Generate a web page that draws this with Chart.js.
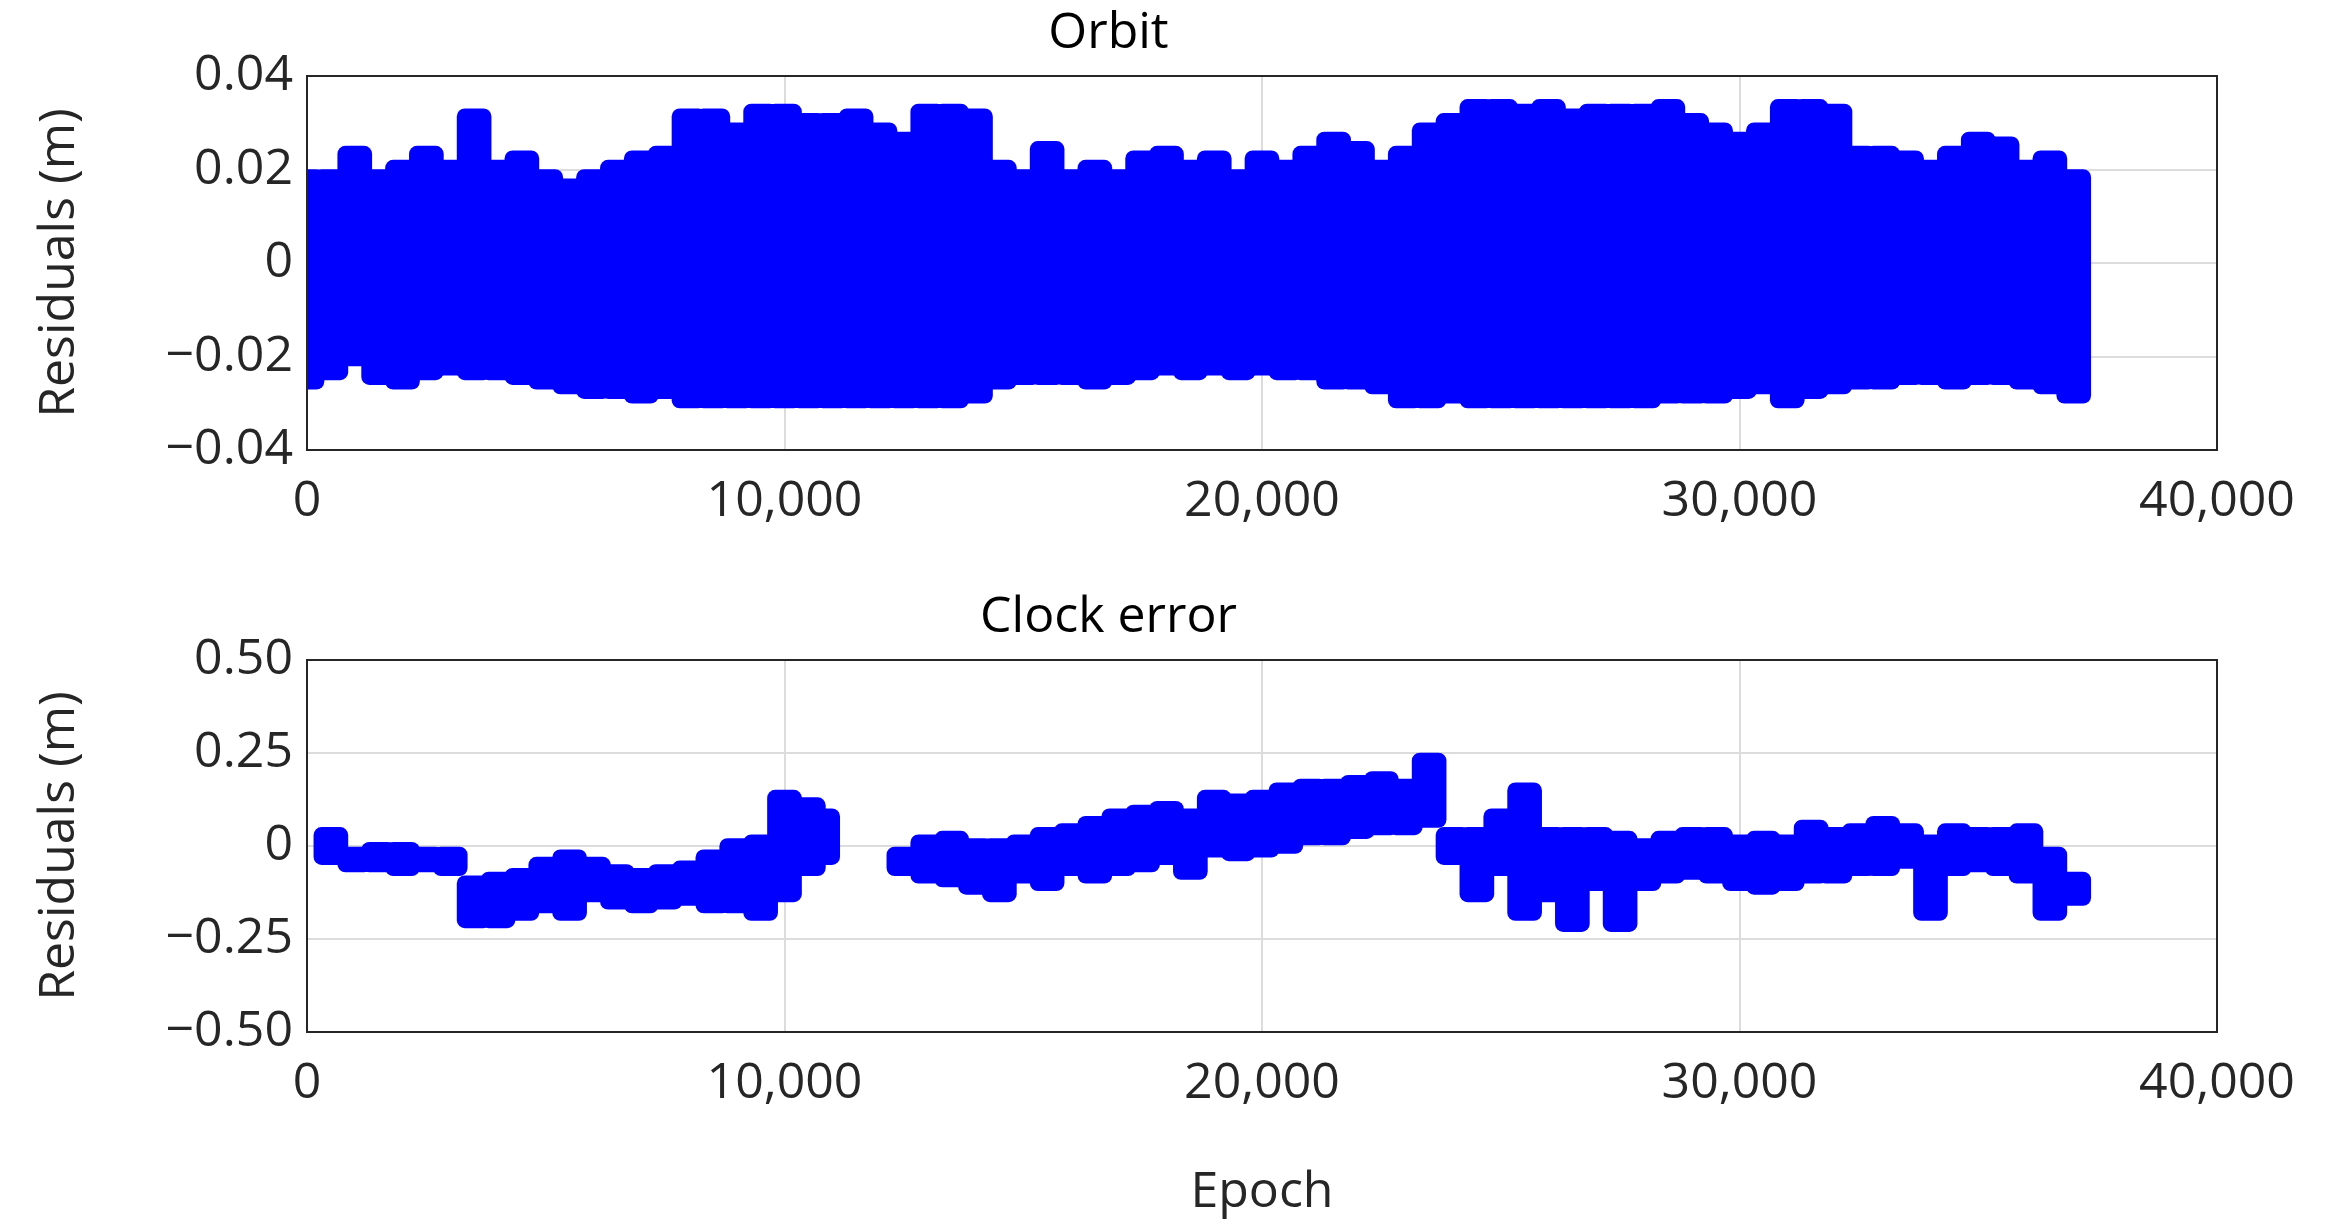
<!DOCTYPE html>
<html>
<head>
<meta charset="utf-8">
<script src="https://cdn.jsdelivr.net/npm/chart.js@4/dist/chart.umd.min.js"></script>
<style>
  body { margin: 0; background: #fff; }
  #wrap1 { position: absolute; left: 0; top: 0; width: 2328px; height: 580px; }
  #wrap2 { position: absolute; left: 0; top: 580px; width: 2328px; height: 647px; }
</style>
</head>
<body>
<div id="wrap1"><canvas id="orbit"></canvas></div>
<div id="wrap2"><canvas id="clock"></canvas></div>
<script>
// spread of residuals per 500-epoch bin
var orbitEpochs = [];
for (var e = 0; e <= 37000; e += 500) orbitEpochs.push(e);
var orbitHigh = [0.02,0.02,0.025,0.02,0.022,0.025,0.022,0.033,0.022,0.024,0.02,0.018,0.02,0.022,0.024,0.025,
  0.033,0.033,0.03,0.034,0.034,0.032,0.032,0.033,0.03,0.028,0.034,0.034,0.033,0.022,0.02,0.026,0.02,0.022,
  0.02,0.024,0.025,0.022,0.024,0.02,0.024,0.022,0.025,0.028,0.026,0.022,0.025,0.03,0.032,0.035,0.035,0.034,
  0.035,0.033,0.034,0.034,0.034,0.035,0.032,0.03,0.028,0.03,0.035,0.035,0.034,0.025,0.025,0.024,0.022,0.025,
  0.028,0.027,0.022,0.024,0.02];
var orbitLow = [-0.027,-0.025,-0.022,-0.026,-0.027,-0.025,-0.024,-0.025,-0.025,-0.026,-0.027,-0.028,-0.029,-0.029,-0.03,-0.029,
  -0.031,-0.031,-0.031,-0.031,-0.031,-0.031,-0.031,-0.031,-0.031,-0.031,-0.031,-0.031,-0.03,-0.027,-0.026,-0.026,-0.026,-0.027,
  -0.026,-0.025,-0.024,-0.025,-0.024,-0.025,-0.024,-0.025,-0.025,-0.027,-0.027,-0.028,-0.031,-0.031,-0.03,-0.031,-0.031,-0.031,
  -0.031,-0.031,-0.031,-0.031,-0.031,-0.03,-0.03,-0.03,-0.029,-0.028,-0.031,-0.029,-0.028,-0.027,-0.027,-0.026,-0.026,-0.027,
  -0.026,-0.026,-0.027,-0.028,-0.03];

var clockEpochs = [500,1000,1500,2000,2500,3000,3500,4000,4500,5000,5500,6000,6500,7000,7500,8000,8500,9000,9500,10000,10500,10800,
  12500,13000,13500,14000,14500,15000,15500,16000,16500,17000,17500,18000,18500,19000,19500,20000,20500,21000,21500,22000,
  22500,23000,23500,24000,24500,25000,25500,26000,26500,27000,27500,28000,28500,29000,29500,30000,30500,31000,31500,32000,
  32500,33000,33500,34000,34500,35000,35500,36000,36500,37000];
var clockLow = [-0.05,-0.07,-0.07,-0.08,-0.07,-0.08,-0.22,-0.22,-0.2,-0.18,-0.2,-0.15,-0.17,-0.18,-0.17,-0.16,-0.18,-0.18,-0.2,-0.15,-0.08,-0.05,
  -0.08,-0.1,-0.11,-0.13,-0.15,-0.1,-0.12,-0.08,-0.1,-0.08,-0.07,-0.05,-0.09,-0.03,-0.04,-0.03,-0.02,0.0,0.0,0.02,
  0.03,0.03,0.05,-0.05,-0.15,-0.08,-0.2,-0.15,-0.23,-0.12,-0.23,-0.12,-0.1,-0.09,-0.1,-0.12,-0.13,-0.12,-0.1,-0.1,
  -0.08,-0.08,-0.06,-0.2,-0.08,-0.07,-0.08,-0.1,-0.2,-0.16];
var clockHigh = [0.05,0.0,0.01,0.01,0.0,0.0,-0.08,-0.07,-0.06,-0.03,-0.01,-0.03,-0.05,-0.06,-0.05,-0.04,-0.01,0.02,0.03,0.15,0.13,0.1,
  0.0,0.03,0.04,0.02,0.02,0.03,0.05,0.06,0.08,0.1,0.11,0.12,0.1,0.15,0.14,0.15,0.17,0.18,0.18,0.19,
  0.2,0.18,0.25,0.05,0.05,0.1,0.17,0.05,0.05,0.05,0.04,0.02,0.04,0.05,0.05,0.03,0.04,0.03,0.07,0.05,
  0.06,0.08,0.06,0.03,0.06,0.05,0.05,0.06,0.0,-0.07];

var xTicks = [0, 10000, 20000, 30000, 40000];
var orbitTicks = [-0.04, -0.02, 0, 0.02, 0.04];
var clockTicks = [-0.5, -0.25, 0, 0.25, 0.5];

var FONT = "'Open Sans', 'Liberation Sans', sans-serif";
var TXT = "#262626";

var frame = {
    id: "frame",
    afterDraw: function(chart) {
        var a = chart.chartArea, c = chart.ctx;
        c.save();
        c.strokeStyle = "#262626";
        c.lineWidth = 2;
        c.strokeRect(a.left, a.top, a.right - a.left, a.bottom - a.top);
        c.restore();
    }
};

function fmtY(v) {
    if (v === 0) return "0";
    var s = Math.abs(v).toFixed(2);
    return (v < 0 ? "\u2212" : "") + s;
}

function makeChart(id, title, xs, lo, hi, yTicks, xHeight, showXTitle, titlePad) {
    var pts = xs.map(function(x, i) { return { x: x, y: [lo[i], hi[i]] }; });
    new Chart(document.getElementById(id), {
        type: "bar",
        data: { datasets: [{ data: pts, backgroundColor: "#0000ff", borderWidth: 0, barThickness: 34, borderRadius: 8, borderSkipped: false }] },
        options: {
            responsive: true,
            maintainAspectRatio: false,
            animation: false,
            layout: { padding: { left: 0, right: 111, top: 0, bottom: 0 } },
            plugins: {
                legend: { display: false },
                tooltip: { enabled: false },
                title: { display: true, text: title, color: "#000", font: { family: FONT, size: 50, weight: "normal" }, padding: titlePad }
            },
            scales: {
                x: {
                    type: "linear", min: 0, max: 40000, offset: false,
                    afterBuildTicks: function(s) { s.ticks = xTicks.map(function(v) { return { value: v }; }); },
                    afterFit: function(s) { s.height = xHeight; },
                    grid: { color: "#dcdcdc", lineWidth: 2, drawTicks: false, offset: false },
                    border: { display: false },
                    ticks: { color: TXT, padding: 22, maxRotation: 0, font: { family: FONT, size: 50 },
                        callback: function(v) { return v.toLocaleString("en-US"); } },
                    title: { display: showXTitle, text: "Epoch", color: TXT, font: { family: FONT, size: 50 }, padding: { top: 10 } }
                },
                y: {
                    min: yTicks[0], max: yTicks[yTicks.length - 1],
                    afterBuildTicks: function(s) { s.ticks = yTicks.map(function(v) { return { value: v }; }); },
                    afterFit: function(s) { s.width = 307; },
                    grid: { color: "#dcdcdc", lineWidth: 2, drawTicks: false },
                    border: { display: false },
                    ticks: { color: TXT, padding: 14, font: { family: FONT, size: 50 }, callback: fmtY },
                    title: { display: true, text: "Residuals (m)", color: TXT, font: { family: FONT, size: 50 }, padding: { top: 30, bottom: 4 } }
                }
            }
        },
        plugins: [frame]
    });
}

makeChart("orbit", "Orbit", orbitEpochs, orbitLow, orbitHigh, orbitTicks, 130, false, { top: 4, bottom: 12 });
makeChart("clock", "Clock error", clockEpochs, clockLow, clockHigh, clockTicks, 195, true, { top: 8, bottom: 12 });
</script>
</body>
</html>
